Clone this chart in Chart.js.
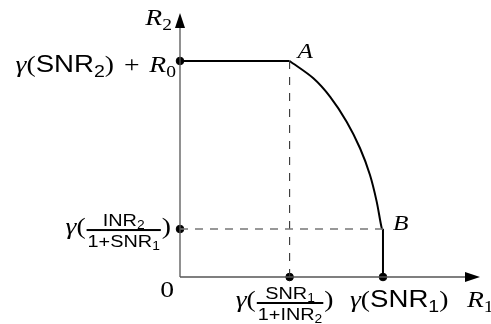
<!DOCTYPE html>
<html>
<head>
<meta charset="utf-8">
<script src="https://cdn.jsdelivr.net/npm/chart.js@4/dist/chart.umd.min.js"></script>
<style>
  body { margin: 0; background: #fff; }
  #wrap { width: 491px; height: 324px; }
</style>
</head>
<body>
<div id="wrap"><canvas id="chart" width="491" height="324"></canvas></div>
<script>
// rate region, normalised so that gamma(SNR1) = 1 and gamma(SNR2)+R0 = 1
var xMax = 1.478;
var yMax = 1.222;

var cornerA = {x: 0.54, y: 1.0};
var cornerB = {x: 1.0, y: 0.222};

// curved part of the boundary
var curveX = [0.54, 0.657, 0.739, 0.821, 0.887, 0.936, 0.969, 0.994, 1.0];
var curveY = [1.0, 0.920, 0.835, 0.719, 0.596, 0.472, 0.349, 0.225, 0.222];

// tick positions on each axis
var xTicks = [0.54, 1.0];
var yTicks = [1.0, 0.222];

// tick labels: runs of text, f = it (math italic), rm, sf (sans), sub
var yTickLabels = [
    [{t: 'γ', f: 'it'}, {t: '(', f: 'rm'}, {t: 'SNR', f: 'sf'}, {t: '2', f: 'sub'}, {t: ')', f: 'rm'},
     {t: ' + ', f: 'rm'}, {t: 'R', f: 'it'}, {t: '0', f: 'subit'}],
    [{t: 'γ', f: 'it'}, {t: '(', f: 'rm'},
     {frac: [[{t: 'INR', f: 'sf'}, {t: '2', f: 'sub'}], [{t: '1+SNR', f: 'sf'}, {t: '1', f: 'sub'}]]},
     {t: ')', f: 'rm'}]
];
var xTickLabels = [
    [{t: 'γ', f: 'it'}, {t: '(', f: 'rm'},
     {frac: [[{t: 'SNR', f: 'sf'}, {t: '1', f: 'sub'}], [{t: '1+INR', f: 'sf'}, {t: '2', f: 'sub'}]]},
     {t: ')', f: 'rm'}],
    [{t: 'γ', f: 'it'}, {t: '(', f: 'rm'}, {t: 'SNR', f: 'sf'}, {t: '1', f: 'sub'}, {t: ')', f: 'rm'}]
];

var SIZE = 24;
var HS = 1.15; // the figure text is a bit wider than our fonts

function fontFor(f, s) {
    if (f == 'it') return 'italic ' + s + 'px "Liberation Serif"';
    if (f == 'rm') return s + 'px "Liberation Serif"';
    if (f == 'sf') return s + 'px "Liberation Sans"';
    if (f == 'sub') return Math.round(s * 0.7) + 'px "Liberation Sans"';
    if (f == 'subit') return Math.round(s * 0.7) + 'px "Liberation Serif"';
}

function textW(ctx, r, s) {
    ctx.font = fontFor(r.f, s);
    var w = ctx.measureText(r.t).width * HS;
    if (r.t == ' + ') w += 6;
    return w;
}

function runsWidth(ctx, runs, s) {
    var w = 0;
    for (var i = 0; i < runs.length; i++) {
        w += runs[i].frac ? fracWidth(ctx, runs[i].frac, s) : textW(ctx, runs[i], s);
    }
    return w;
}

function fracWidth(ctx, fr, s) {
    var fs = s * 0.72;
    return Math.max(runsWidth(ctx, fr[0], fs), runsWidth(ctx, fr[1], fs)) + 4;
}

// draws runs with baseline y, returns the x after the last run
function drawRuns(ctx, runs, x, y, s) {
    for (var i = 0; i < runs.length; i++) {
        var r = runs[i];
        if (r.frac) {
            var fw = fracWidth(ctx, r.frac, s);
            var fs = s * 0.72;
            var bar = y - 4;
            ctx.fillRect(x + 1, bar - 1, fw - 2, 2);
            var nw = runsWidth(ctx, r.frac[0], fs);
            var dw = runsWidth(ctx, r.frac[1], fs);
            drawRuns(ctx, r.frac[0], x + (fw - nw) / 2, bar - 4, fs);
            drawRuns(ctx, r.frac[1], x + (fw - dw) / 2, bar + 17, fs);
            x += fw;
        } else {
            var w = textW(ctx, r, s);
            var dy = (r.f == 'sub' || r.f == 'subit') ? s * 0.2 : 0;
            ctx.save();
            ctx.font = fontFor(r.f, s);
            ctx.translate(x + (r.t == ' + ' ? 3 : 0), y + dy);
            ctx.scale(HS, 1);
            ctx.fillText(r.t, 0, 0);
            ctx.restore();
            x += w;
        }
    }
    return x;
}

// y is the baseline of the label
function drawLabel(ctx, runs, x, y, align, s) {
    var w = runsWidth(ctx, runs, s);
    var left = x;
    if (align == 'right') left = x - w;
    if (align == 'center') left = x - w / 2;
    drawRuns(ctx, runs, left, y, s);
}

var decorations = {
    id: 'decorations',
    afterDatasetsDraw: function(chart) {
        var ctx = chart.ctx;
        var xs = chart.scales.x, ys = chart.scales.y;
        var x0 = xs.getPixelForValue(0), y0 = ys.getPixelForValue(0);
        var xEnd = xs.getPixelForValue(xMax), yEnd = ys.getPixelForValue(yMax);
        ctx.save();
        ctx.fillStyle = '#000';
        // arrowheads
        ctx.beginPath();
        ctx.moveTo(xEnd, y0);
        ctx.lineTo(xEnd - 15, y0 - 5);
        ctx.lineTo(xEnd - 15, y0 + 5);
        ctx.closePath();
        ctx.fill();
        ctx.beginPath();
        ctx.moveTo(x0, yEnd);
        ctx.lineTo(x0 - 5, yEnd + 15);
        ctx.lineTo(x0 + 5, yEnd + 15);
        ctx.closePath();
        ctx.fill();

        ctx.textBaseline = 'alphabetic';
        drawLabel(ctx, yTickLabels[0], x0 - 4, ys.getPixelForValue(yTicks[0]) + 11, 'right', SIZE);
        drawLabel(ctx, yTickLabels[1], x0 - 9, ys.getPixelForValue(yTicks[1]) + 5, 'right', SIZE);
        drawLabel(ctx, xTickLabels[0], xs.getPixelForValue(xTicks[0]) - 5, y0 + 30, 'center', SIZE);
        drawLabel(ctx, xTickLabels[1], xs.getPixelForValue(xTicks[1]) - 33, y0 + 30, 'left', SIZE);

        drawLabel(ctx, [{t: '0', f: 'rm'}], x0 - 6, y0 + 20, 'right', SIZE);
        drawLabel(ctx, [{t: 'R', f: 'it'}, {t: '1', f: 'subit'}], xEnd - 13, y0 + 30, 'left', SIZE);
        drawLabel(ctx, [{t: 'R', f: 'it'}, {t: '2', f: 'subit'}], x0 - 8, yEnd + 12, 'right', SIZE);
        drawLabel(ctx, [{t: 'A', f: 'it'}], xs.getPixelForValue(cornerA.x) + 8, ys.getPixelForValue(cornerA.y) - 3, 'left', 22);
        drawLabel(ctx, [{t: 'B', f: 'it'}], xs.getPixelForValue(cornerB.x) + 10, ys.getPixelForValue(cornerB.y) + 1, 'left', 22);
        ctx.restore();
    }
};

function pts(xv, yv) {
    var out = [];
    for (var i = 0; i < xv.length; i++) out.push({x: xv[i], y: yv[i]});
    return out;
}

var dotPoints = [];
for (var i = 0; i < xTicks.length; i++) dotPoints.push({x: xTicks[i], y: 0});
for (var i = 0; i < yTicks.length; i++) dotPoints.push({x: 0, y: yTicks[i]});

var lineDefaults = {showLine: true, pointRadius: 0, fill: false, clip: false};

new Chart('chart', {
    type: 'scatter',
    data: {
        datasets: [
            Object.assign({data: pts([0, xMax - 0.06], [0, 0]), borderColor: '#555', borderWidth: 1.3}, lineDefaults),
            Object.assign({data: pts([0, 0], [0, yMax - 0.06]), borderColor: '#555', borderWidth: 1.3}, lineDefaults),
            Object.assign({data: pts([0, cornerB.x], [cornerB.y, cornerB.y]), borderColor: '#777', borderWidth: 1.5, borderDash: [8, 7]}, lineDefaults),
            Object.assign({data: pts([cornerA.x, cornerA.x], [0, cornerA.y]), borderColor: '#333', borderWidth: 1.1, borderDash: [8, 8]}, lineDefaults),
            Object.assign({data: pts([0, cornerA.x], [cornerA.y, cornerA.y]), borderColor: '#000', borderWidth: 2}, lineDefaults),
            Object.assign({data: pts(curveX, curveY), borderColor: '#000', borderWidth: 2, tension: 0.3}, lineDefaults),
            Object.assign({data: pts([cornerB.x, cornerB.x], [cornerB.y, 0]), borderColor: '#000', borderWidth: 2}, lineDefaults),
            {data: dotPoints, pointRadius: 3.8, pointBackgroundColor: '#000', pointBorderColor: '#000', showLine: false, clip: false}
        ]
    },
    options: {
        responsive: false,
        animation: false,
        layout: {padding: {left: 180, right: 11, top: 13, bottom: 47}},
        plugins: {legend: {display: false}, tooltip: {enabled: false}},
        scales: {
            x: {type: 'linear', display: false, min: 0, max: xMax},
            y: {type: 'linear', display: false, min: 0, max: yMax}
        }
    },
    plugins: [decorations]
});
</script>
</body>
</html>
